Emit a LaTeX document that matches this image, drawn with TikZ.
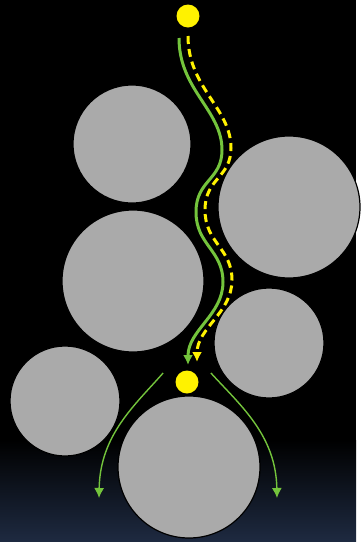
\documentclass[tikz,border=0pt]{standalone}
\usetikzlibrary{arrows.meta}
\definecolor{grain}{RGB}{170,170,170}
\definecolor{leaf}{RGB}{116,196,60}
\definecolor{night}{RGB}{30,42,65}
\begin{document}
\begin{tikzpicture}[x=0.5pt,y=-0.5pt,
	grainc/.style={fill=grain,draw=black,line width=0.6pt},
	dot/.style={circle,fill=yellow,inner sep=0pt,minimum size=11.5pt},
	flow/.style={leaf,line width=1.5pt,-{Latex[length=5pt,width=5pt]}},
	flowdash/.style={yellow,line width=1.5pt,dash pattern=on 4pt off 2.5pt,-{Latex[length=5pt,width=5pt]}},
	split/.style={leaf,line width=0.7pt,-{Latex[length=5pt,width=5pt]}}]
	% background
	\fill[black] (0,0) rectangle (356,542);
	\shade[top color=black,bottom color=night] (0,440) rectangle (356,542);
	% grains
	\foreach \x/\y/\r in {132/144/59, 289/207/71, 133/281/71, 269/343/55, 65/401/55, 189/467/71}
	\draw[grainc] (\x,\y) circle (\r);
	% pores
	\node[dot] (top) at (188,16) {};
	\node[dot] (bot) at (187,382) {};
	\coordinate (gin) at (179,38);
	\coordinate (gout) at (188,365);
	\coordinate (yin) at (188,36);
	\coordinate (yout) at (197,362);
	\coordinate (left) at (99,498);
	\coordinate (right) at (277,498);
	% paths through the gap
	\draw[flow] (gin) .. controls (179,90) and (222,110) .. (222,150)
		.. controls (222,180) and (196,180) .. (196,212)
		.. controls (196,245) and (223,250) .. (223,282)
		.. controls (223,315) and (188,330) .. (gout);
	\draw[flowdash] (yin) .. controls (188,88) and (231,108) .. (231,148)
		.. controls (231,178) and (205,178) .. (205,210)
		.. controls (205,243) and (232,248) .. (232,280)
		.. controls (232,313) and (197,328) .. (yout);
	\draw[split] (bot.west) ++(-12,-9) .. controls (135,405) and (100,435) .. (left);
	\draw[split] (bot.east) ++(12,-9) .. controls (240,405) and (276,435) .. (right);
\end{tikzpicture}
\end{document}
